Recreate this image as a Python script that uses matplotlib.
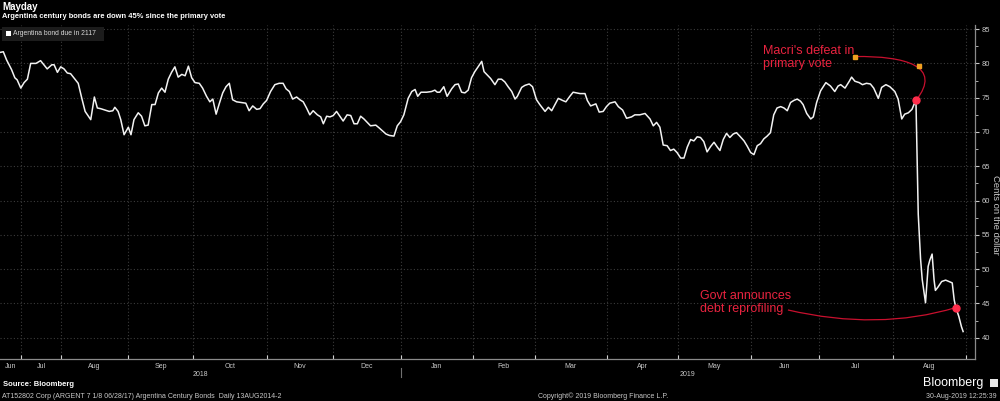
import matplotlib
matplotlib.use("Agg")
import matplotlib.pyplot as plt
from matplotlib.path import Path
from matplotlib.patches import PathPatch, Rectangle

plt.rcParams['font.family'] = ['Liberation Sans', 'DejaVu Sans']

# position on the chart's trading-day axis, and bond price (cents on the dollar)
day = [0.0, 1.0, 2.0, 3.5, 4.5, 5.2, 6.3, 7.3, 8.3, 9.3, 10.9, 12.3, 13.3, 14.3, 15.7, 16.4,
       17.4, 18.4, 19.4, 20.4, 21.4, 22.4, 23.7, 24.8, 25.8, 27.5, 28.6, 29.5, 30.5, 31.8, 33.1,
       34.2, 34.8, 35.8, 36.6, 37.6, 38.9, 39.7, 40.6, 41.9, 42.9, 43.9, 44.9, 46.0, 47.0, 48.0,
       49.0, 50.0, 51.0, 52.0, 53.0, 54.0, 55.1, 56.1, 57.1, 58.1, 59.1, 60.4, 61.4, 62.6, 63.6,
       64.5, 65.5, 66.5, 67.5, 68.5, 69.5, 70.5, 71.7, 73.2, 74.5, 75.5, 76.6, 77.8, 78.8, 79.8,
       80.8, 82.0, 83.3, 84.6, 85.8, 86.7, 87.7, 88.7, 89.9, 90.9, 91.9, 92.9, 93.9, 94.9, 96.2,
       97.2, 98.0, 99.0, 100.0, 101.0, 102.0, 103.0, 104.0, 105.2, 106.3, 107.3, 108.3, 109.3,
       110.3, 112.3, 113.9, 114.9, 117.0, 118.0, 119.4, 120.4, 121.4, 122.4, 123.7, 124.8, 125.8,
       126.6, 127.6, 129.3, 130.8, 131.8, 132.5, 133.3, 134.5, 135.5, 136.9, 137.9, 138.9, 139.9,
       140.9, 141.9, 142.9, 143.9, 144.9, 146.0, 146.7, 147.7, 148.7, 150.0, 151.0, 152.0, 153.0,
       154.0, 155.1, 156.1, 156.8, 158.1, 159.1, 160.4, 161.4, 162.6, 163.6, 165.2, 166.2, 167.2,
       168.2, 169.2, 170.5, 171.5, 172.7, 173.7, 174.8, 175.8, 177.3, 178.0, 179.0, 180.6, 181.6,
       182.8, 183.8, 184.8, 186.4, 187.4, 188.7, 189.9, 191.4, 192.4, 193.9, 195.5, 197.0, 198.0,
       199.0, 200.0, 201.0, 202.2, 203.2, 204.2, 205.2, 206.3, 207.3, 208.3, 209.3, 210.3, 211.3,
       212.3, 213.3, 214.3, 215.4, 216.4, 217.4, 218.2, 219.2, 220.2, 221.2, 222.2, 223.2, 224.2,
       225.5, 226.5, 227.5, 228.5, 229.5, 230.5, 231.5, 232.5, 233.5, 234.5, 235.5, 236.6, 237.6,
       238.6, 239.6, 240.6, 241.6, 242.6, 243.4, 244.5, 245.7, 246.5, 247.5, 248.7, 250.3, 251.7,
       253.0, 254.0, 254.8, 256.1, 257.4, 258.1, 259.1, 260.4, 261.4, 262.6, 263.8, 264.8, 266.2,
       267.2, 268.5, 269.7, 271.2, 272.2, 273.3, 274.2, 275.3, 276.4, 277.0, 277.6, 278.3, 279.0,
       279.5, 280.5, 281.3, 281.8, 282.5, 283.1, 283.5, 284.3, 285.4, 286.6, 287.6, 288.6, 289.2,
       289.7, 290.6, 291.4, 291.9]
price = [81.6, 81.7, 80.5, 79.1, 77.9, 77.6, 76.4, 77.2, 77.7, 80.0, 80.0, 80.4, 79.8, 79.2, 79.8, 79.8,
         78.7, 79.5, 79.2, 78.6, 78.5, 77.9, 77.1, 74.9, 73.0, 71.8, 75.1, 73.5, 73.4, 73.2, 73.0,
         73.1, 73.6, 73.0, 71.8, 69.6, 70.7, 69.6, 71.8, 72.8, 72.3, 70.9, 71.0, 74.0, 74.0, 75.7,
         76.4, 75.8, 77.7, 78.7, 79.5, 78.0, 78.4, 78.2, 79.6, 77.9, 77.2, 77.1, 76.4, 75.2, 74.4,
         74.8, 72.6, 74.2, 75.7, 76.6, 77.1, 74.7, 74.4, 74.3, 74.2, 73.1, 73.8, 73.3, 73.4, 74.1,
         74.6, 75.9, 76.9, 77.1, 77.1, 76.3, 75.9, 74.8, 75.1, 74.7, 74.4, 73.5, 72.5, 73.1, 72.5,
         72.2, 71.2, 72.3, 72.2, 72.4, 73.0, 72.3, 71.6, 72.5, 72.4, 71.2, 71.2, 72.3,
         71.9, 70.9, 71.0, 70.6, 69.7, 69.5, 69.4, 70.9, 71.5, 72.5, 74.9, 75.9, 76.2,
         75.2, 75.8, 75.8, 75.9, 76.1, 75.8, 75.8, 76.6, 75.2, 76.3, 76.9, 77.0, 75.8,
         75.7, 76.1, 77.9, 78.8, 79.5, 80.3, 78.8, 78.3, 77.8, 76.9, 77.7, 77.7, 77.3,
         76.6, 75.9, 74.8, 75.2, 76.5, 76.8, 77.0, 76.6, 74.7, 74.0, 73.0, 73.6, 73.1,
         74.0, 74.9, 74.6, 74.4, 75.2, 75.8, 75.7, 75.6, 75.6, 74.6, 73.8, 74.1, 72.9,
         73.0, 73.7, 74.2, 74.4, 73.7, 73.2, 72.0, 72.2, 72.5, 72.5, 72.7, 71.9, 70.9,
         71.4, 70.7, 68.1, 68.0, 67.3, 67.5, 67.0, 66.2, 66.2, 67.8, 68.9, 68.7, 69.3,
         69.2, 68.6, 67.1, 67.9, 68.5, 67.8, 67.3, 68.9, 69.8, 69.2, 69.7, 69.9, 69.4,
         68.7, 67.9, 67.0, 66.7, 68.0, 68.3, 69.0, 69.4, 69.9, 72.5, 73.5, 73.7, 73.5,
         73.1, 74.3, 74.6, 74.8, 74.5, 74.0, 72.7, 71.9, 72.2, 74.3, 76.0, 77.2, 76.7,
         75.9, 76.7, 76.9, 76.4, 77.4, 78.0, 77.4, 77.2, 76.9, 77.1, 77.0, 76.4, 74.9,
         76.5, 76.9, 76.6, 75.9, 74.8, 71.9, 72.6, 72.8, 73.3, 74.0, 74.6, 58.0, 51.5,
         48.5, 45.1, 50.4, 51.3, 52.2, 48.4, 46.9, 47.4, 48.2, 48.4, 48.2, 48.0, 45.5,
         44.4, 43.1, 41.6, 40.9]

# month boundaries on the same axis, labels between them
month_edges = [0, 6.4, 18.5, 38.8, 58.5, 80.9, 100.9, 121.5, 143.3, 162.1, 183.9,
               205.5, 227.6, 248.2, 270.6, 292.7]
month_names = ['Jun', 'Jul', 'Aug', 'Sep', 'Oct', 'Nov', 'Dec', 'Jan', 'Feb', 'Mar',
               'Apr', 'May', 'Jun', 'Jul', 'Aug']
year_names = ['2018', '2019']
year_edges = [0, 121.5, 295.5]

vote_day = 277.6
reprofile_day = 289.7

BG = '#000000'
GRID = '#3c3c3c'
TXT = '#c8c8c8'
RED = '#e8233f'
CURVE = '#c8102e'

fig = plt.figure(figsize=(10, 4.01), dpi=100, facecolor=BG)
ax = fig.add_axes([0, 1 - 359 / 401, 0.975, (359 - 25) / 401])
ax.set_facecolor(BG)

ax.plot(day, price, color='#f2f2f2', lw=1.1, zorder=3)

ax.set_xlim(0, year_edges[-1])
ax.set_ylim(36.9, 85.6)

# y axis on the right
ax.yaxis.tick_right()
ax.set_yticks(range(40, 86, 5))
ax.set_yticks([v + 2.5 for v in range(35, 86, 5)][1:-1], minor=True)
ax.tick_params(axis='y', which='major', direction='out', length=3, width=0.8,
               colors=TXT, labelsize=5.5, pad=2)
ax.tick_params(axis='y', which='minor', direction='out', length=2, width=0.6, color=TXT)

# x axis: month edges as ticks/grid, month names centred in each month
mids = [(a + b) / 2 for a, b in zip(month_edges[:-1], month_edges[1:])]
ax.set_xticks(month_edges[1:])
ax.set_xticklabels([])
ax.set_xticks(mids, minor=True)
ax.set_xticklabels(month_names, minor=True)
ax.tick_params(axis='x', which='major', direction='in', length=3, width=0.8, color='#d0d0d0')
ax.tick_params(axis='x', which='minor', length=0, labelsize=5, colors=TXT, pad=3)

for i, name in enumerate(year_names):
    ax.text((year_edges[i] + year_edges[i + 1]) / 2, -0.047, name, transform=ax.get_xaxis_transform(),
            ha='center', va='center', color=TXT, fontsize=5)
ax.plot([year_edges[1], year_edges[1]], [-0.028, -0.055], transform=ax.get_xaxis_transform(),
        color='#707070', lw=0.8, clip_on=False)

ax.grid(which='major', color=GRID, linestyle=(0, (1, 2)), linewidth=0.8)
ax.set_axisbelow(True)
for side in ['top', 'left']:
    ax.spines[side].set_visible(False)
for side in ['right', 'bottom']:
    ax.spines[side].set_color('#8a8a8a')
    ax.spines[side].set_linewidth(0.9)

# event markers
vote_price = price[day.index(vote_day)]
rep_price = price[day.index(reprofile_day)]
ax.plot([vote_day, reprofile_day], [vote_price, rep_price], 'o', color='#ff2d4b', ms=5, zorder=5)

ax.text(231.2, 82.7, "Macri's defeat in\nprimary vote", color=RED, fontsize=9,
        ha='left', va='top', linespacing=1.1)
vote_path = Path([(259.1, 81.0), (274.5, 81.1), (285.8, 79.6), (vote_day, vote_price)],
                 [Path.MOVETO, Path.CURVE4, Path.CURVE4, Path.CURVE4])
ax.add_patch(PathPatch(vote_path, facecolor='none', edgecolor=CURVE, lw=0.9, zorder=4))
ax.plot([259.1, 278.5], [81.0, 79.6], 's', color='#f0a020', ms=2.8, zorder=5)

ax.text(212.1, 46.9, "Govt announces\ndebt reprofiling", color=RED, fontsize=9,
        ha='left', va='top', linespacing=1.1)
rep_path = Path([(238.8, 44.05), (266.1, 40.99), (reprofile_day, rep_price)],
                [Path.MOVETO, Path.CURVE3, Path.CURVE3])
ax.add_patch(PathPatch(rep_path, facecolor='none', edgecolor=CURVE, lw=0.9, zorder=4))

# header
fig.text(0.002, 1 - 7 / 401, 'Mayday', color='white', fontsize=7, fontweight='bold', va='center')
fig.text(0.002, 1 - 16.5 / 401, 'Argentina century bonds are down 45% since the primary vote',
         color='white', fontsize=5.4, fontweight='bold', va='center')

# legend box
fig.patches.append(Rectangle((0.002, 1 - 41 / 401), 0.102, 14 / 401, transform=fig.transFigure,
                             facecolor='#1c1c1c', edgecolor='none', zorder=5))
fig.patches.append(Rectangle((0.006, 1 - 36 / 401), 0.005, 5 / 401, transform=fig.transFigure,
                             facecolor='white', edgecolor='none', zorder=6))
fig.text(0.013, 1 - 33.5 / 401, 'Argentina bond due in 2117', color='#d8d8d8', fontsize=4.9,
         va='center', zorder=7)

# y label
fig.text(0.9958, 1 - 215 / 401, 'Cents on the dollar', color=TXT, fontsize=6.8, rotation=270,
         ha='center', va='center')

# footer
fig.text(0.003, 1 - 385 / 401, 'Source: Bloomberg', color='white', fontsize=5.5,
         fontweight='bold', va='center')
fig.text(0.002, 1 - 396.5 / 401,
         'AT152802 Corp (ARGENT 7 1/8 06/28/17) Argentina Century Bonds  Daily 13AUG2014-2',
         color=TXT, fontsize=5, va='center')
fig.text(0.538, 1 - 396.5 / 401, 'Copyright\u00a9 2019 Bloomberg Finance L.P.', color=TXT,
         fontsize=5, va='center')
fig.text(0.983, 1 - 383 / 401, 'Bloomberg', color='white', fontsize=9, ha='right', va='center')
fig.patches.append(Rectangle((0.990, 1 - 387 / 401), 0.008, 8 / 401, transform=fig.transFigure,
                             facecolor='#e8e8e8', edgecolor='none'))
fig.text(0.997, 1 - 396.5 / 401, '30-Aug-2019 12:25:39', color=TXT, fontsize=5,
         ha='right', va='center')

fig.savefig('out.png', dpi=100, facecolor=BG)
